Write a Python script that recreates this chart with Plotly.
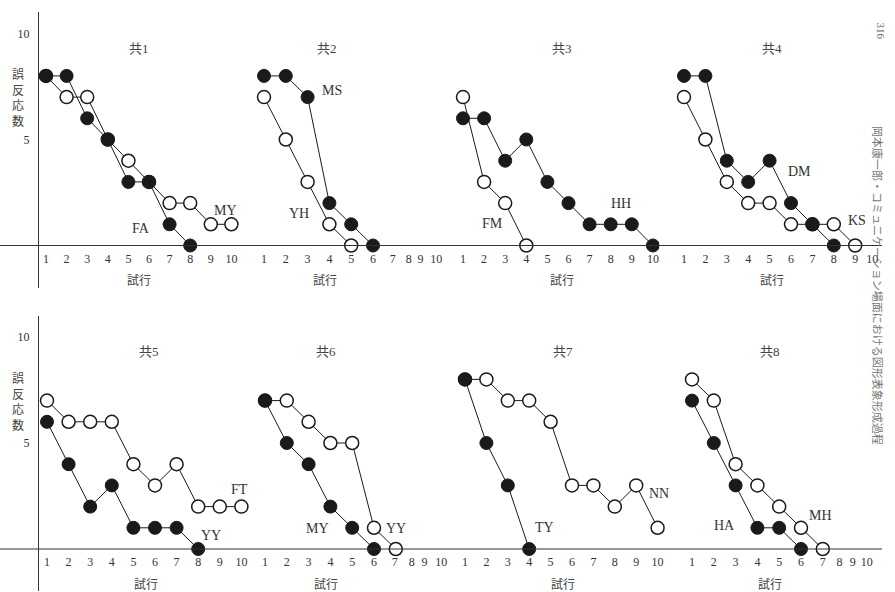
import plotly.graph_objects as go

W, H = 895, 592

# ---------------- data ----------------
panel_titles = ["共1", "共2", "共3", "共4", "共5", "共6", "共7", "共8"]
open_names = ["MY", "YH", "FM", "KS", "FT", "YY", "NN", "MH"]
filled_names = ["FA", "MS", "HH", "DM", "YY", "MY", "TY", "HA"]
tick_labels = ["1", "2", "3", "4", "5", "6", "7", "8", "9", "10"]

p1_open = [8, 7, 7, 5, 4, 3, 2, 2, 1, 1]
p1_filled = [8, 8, 6, 5, 3, 3, 1, 0]
p2_open = [7, 5, 3, 1, 0]
p2_filled = [8, 8, 7, 2, 1, 0]
p3_open = [7, 3, 2, 0]
p3_filled = [6, 6, 4, 5, 3, 2, 1, 1, 1, 0]
p4_open = [7, 5, 3, 2, 2, 1, 1, 1, 0]
p4_filled = [8, 8, 4, 3, 4, 2, 1, 0]
p5_open = [7, 6, 6, 6, 4, 3, 4, 2, 2, 2]
p5_filled = [6, 4, 2, 3, 1, 1, 1, 0]
p6_open = [7, 7, 6, 5, 5, 1, 0]
p6_filled = [7, 5, 4, 2, 1, 0]
p7_open = [8, 8, 7, 7, 6, 3, 3, 2, 3, 1]
p7_filled = [8, 5, 3, 0]
p8_open = [8, 7, 4, 3, 2, 1, 0]
p8_filled = [7, 5, 3, 1, 1, 0]

open_series = [p1_open, p2_open, p3_open, p4_open, p5_open, p6_open, p7_open, p8_open]
filled_series = [p1_filled, p2_filled, p3_filled, p4_filled,
                 p5_filled, p6_filled, p7_filled, p8_filled]

# ---------------- layout constants ----------------
# (pixel x of trial 1, pixels per trial, x-range end)
panel_geom = [(46, 20.6, 10.6), (264, 21.8, 9.4), (463, 21.1, 10.3), (684, 21.4, 10.3),
              (47, 21.6, 10.6), (265, 21.8, 9.4), (465, 21.4, 10.4), (692, 21.8, 10.1)]
tick_pos = [
    list(range(1, 11)),
    [1, 2, 3, 4, 5, 6, 6.91, 7.64, 8.18, 8.9],
    list(range(1, 11)),
    [1, 2, 3, 4, 5, 6, 7, 8, 9, 9.8],
    list(range(1, 11)),
    [1, 2, 3, 4, 5, 6, 6.95, 7.73, 8.32, 9.09],
    list(range(1, 11)),
    [1, 2, 3, 4, 5, 6, 7, 7.77, 8.37, 9.02],
]
title_pos = [5.5, 3.9, 5.7, 5.1, 5.7, 3.8, 5.6, 4.6]
open_lbl_pos = [(9.7, 1.65), (2.6, 1.5), (2.4, 1.05), (9.1, 1.2),
                (9.9, 2.8), (7.0, 0.95), (10.05, 2.6), (6.9, 1.6)]
filled_lbl_pos = [(5.6, 0.8), (4.1, 7.3), (8.5, 2.0), (6.4, 3.5),
                  (8.6, 0.66), (3.4, 0.95), (4.7, 1.0), (2.5, 1.1)]
xlabel_pos = [5.5, 3.8, 5.7, 5.1, 5.6, 3.8, 5.6, 4.6]

UNIT = 21.2
row_zero_px = [245.5, 549.0]
YR = [-2.0, 11.0]

serif = "Liberation Serif, Noto Sans CJK JP, serif"
ink = "#1a1a1a"
txt = "#333333"

fig = go.Figure()
layout = dict(width=W, height=H, margin=dict(l=0, r=0, t=0, b=0),
              paper_bgcolor="white", plot_bgcolor="rgba(0,0,0,0)",
              showlegend=False, font=dict(family=serif, size=12, color=ink))

# y axes (one per row)
for r in range(2):
    z = row_zero_px[r]
    top_px = z - YR[1] * UNIT
    bot_px = z - YR[0] * UNIT
    key = "yaxis" if r == 0 else "yaxis2"
    layout[key] = dict(domain=[max(0, 1 - bot_px / H), 1 - top_px / H], range=YR,
                       anchor="free", position=38 / W, showline=True,
                       linecolor="#333", linewidth=1, showgrid=False, zeroline=False,
                       tickvals=[5, 10], ticktext=["5", "10"], ticks="",
                       ticklabelstandoff=6, tickfont=dict(family=serif, size=12, color=txt))

annotations = []
shapes = []
for i in range(8):
    r = 0 if i < 4 else 1
    yref = "y" if r == 0 else "y2"
    xname = "x" if i == 0 else f"x{i+1}"
    xkey = "xaxis" if i == 0 else f"xaxis{i+1}"
    px1, u, r1 = panel_geom[i]
    r0 = 0.5
    d0 = (px1 + (r0 - 1) * u) / W
    d1 = (px1 + (r1 - 1) * u) / W
    layout[xkey] = dict(domain=[max(0, d0), min(1, d1)], range=[r0, r1], anchor="free",
                        position=1 - row_zero_px[r] / H, showline=False, showgrid=False,
                        zeroline=False, tickvals=tick_pos[i], ticktext=tick_labels,
                        ticks="", ticklabelstandoff=4,
                        tickfont=dict(family=serif, size=12, color=txt))

    ov = open_series[i]
    fv = filled_series[i]
    fig.add_trace(go.Scatter(x=list(range(1, len(ov) + 1)), y=ov, xaxis=xname, yaxis=yref,
                             mode="lines+markers", name=open_names[i],
                             line=dict(color=ink, width=1),
                             marker=dict(symbol="circle", size=13, color="white",
                                         line=dict(color=ink, width=1.5))))
    fig.add_trace(go.Scatter(x=list(range(1, len(fv) + 1)), y=fv, xaxis=xname, yaxis=yref,
                             mode="lines+markers", name=filled_names[i],
                             line=dict(color=ink, width=1),
                             marker=dict(symbol="circle", size=13, color=ink,
                                         line=dict(color=ink, width=1))))

    annotations.append(dict(x=title_pos[i], y=9.3, xref=xname, yref=yref, text=panel_titles[i],
                            showarrow=False, font=dict(family=serif, size=13, color="#444")))
    annotations.append(dict(x=open_lbl_pos[i][0], y=open_lbl_pos[i][1], xref=xname, yref=yref,
                            text=open_names[i], showarrow=False,
                            font=dict(family=serif, size=14, color=txt)))
    annotations.append(dict(x=filled_lbl_pos[i][0], y=filled_lbl_pos[i][1], xref=xname, yref=yref,
                            text=filled_names[i], showarrow=False,
                            font=dict(family=serif, size=14, color=txt)))
    annotations.append(dict(x=xlabel_pos[i], y=-1.62, xref=xname, yref=yref, text="試行",
                            showarrow=False,
                            font=dict(family="Noto Sans CJK JP", size=12, color="#444")))

for r in range(2):
    yref = "y" if r == 0 else "y2"
    shapes.append(dict(type="line", xref="paper", yref=yref, x0=0, x1=882 / W, y0=0, y1=0,
                       line=dict(color="#333", width=1)))
    annotations.append(dict(x=10 / W, y=7.0, xref="paper", yref=yref,
                            text="誤<br>反<br>応<br>数", showarrow=False,
                            font=dict(family="Noto Sans CJK JP", size=12, color="#444")))

# page header printed along the right edge
annotations.append(dict(x=888 / W, y=1 - 20 / H, xref="paper", yref="paper", text="316",
                        textangle=90, showarrow=False,
                        font=dict(family=serif, size=11, color="#666")))
annotations.append(dict(x=888 / W, y=1 - 285 / H, xref="paper", yref="paper",
                        text="岡本康一郎・コミュニケーション場面における図形表象形成過程",
                        textangle=90, showarrow=False,
                        font=dict(family="Noto Sans CJK JP", size=11, color="#777")))

layout["annotations"] = annotations
layout["shapes"] = shapes
fig.update_layout(**layout)
fig.write_html("out.html")
